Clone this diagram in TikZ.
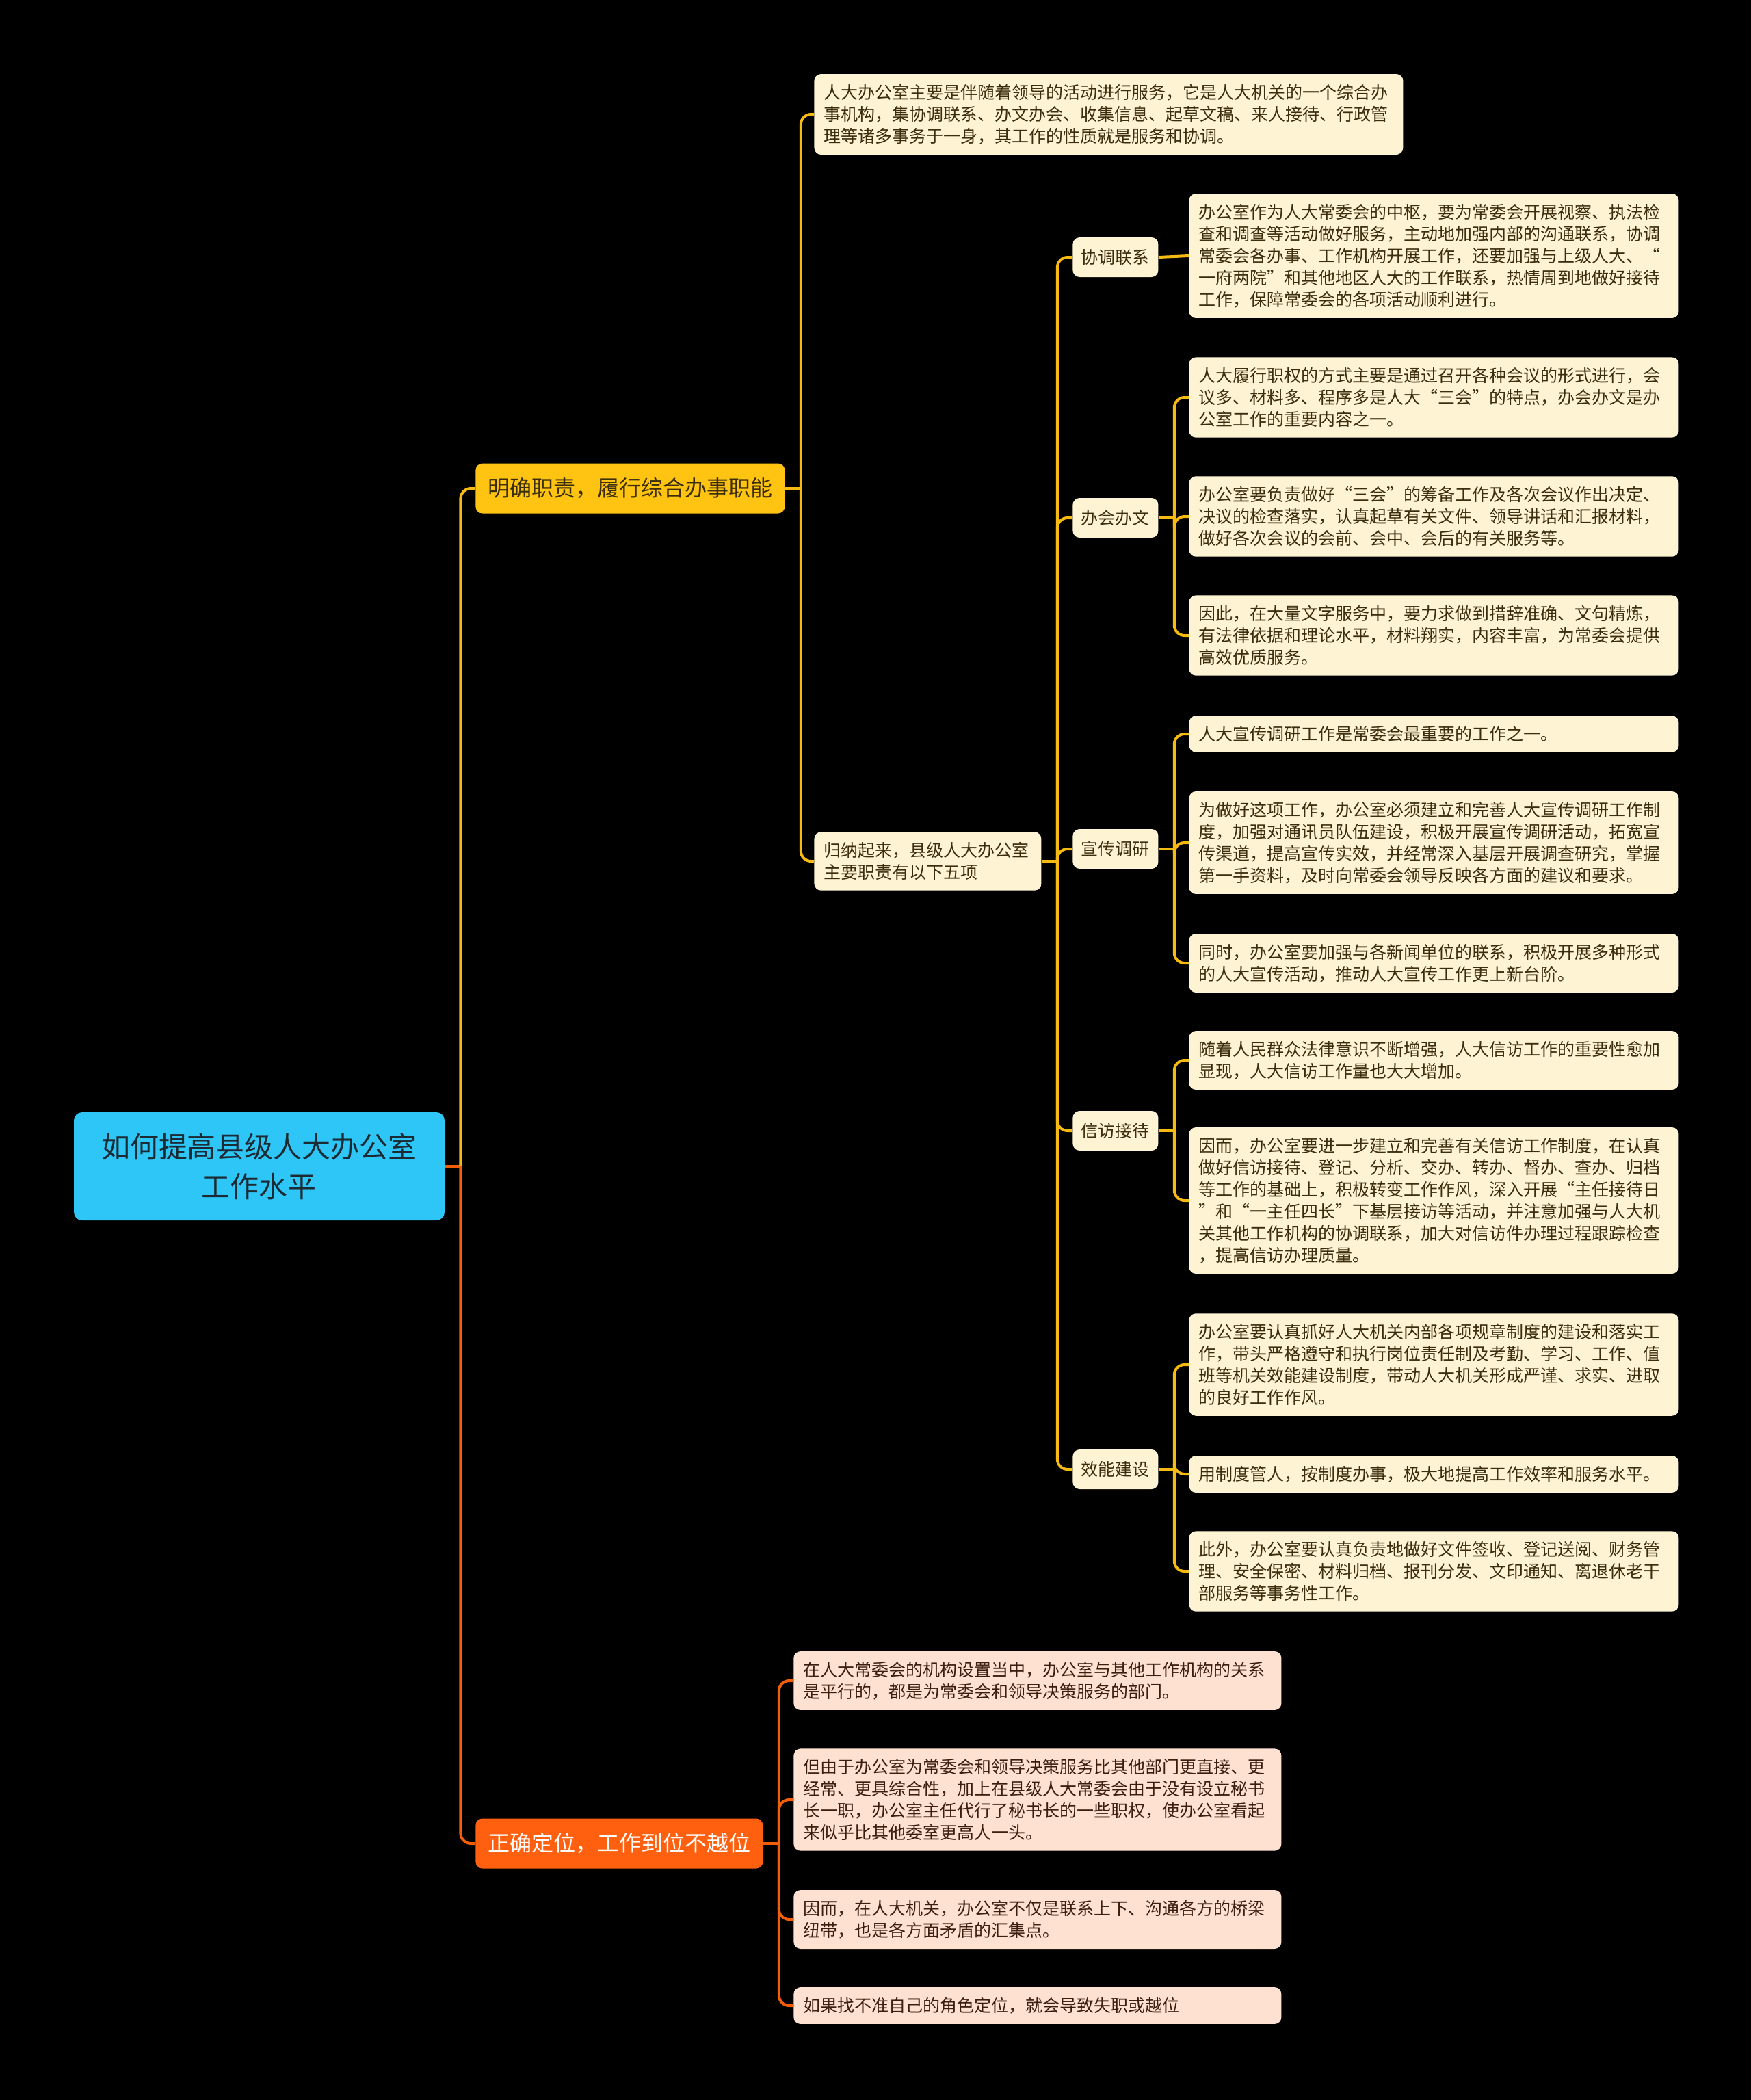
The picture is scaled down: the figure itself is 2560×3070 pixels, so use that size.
\documentclass[tikz,border=0pt]{standalone}
\usepackage{fontspec}
\setmainfont{Noto Sans CJK SC}
\usetikzlibrary{positioning}

\definecolor{rootblue}{HTML}{2EC6F7}
\definecolor{rootink}{HTML}{1C2B33}
\definecolor{amber}{HTML}{FFC312}
\definecolor{tangerine}{HTML}{FF600F}
\definecolor{cream}{HTML}{FEF3D2}
\definecolor{peach}{HTML}{FFE1D1}
\definecolor{inkbrown}{HTML}{3B2E0C}
\definecolor{inkred}{HTML}{3A1E10}
\definecolor{ylinecol}{HTML}{F6BA12}
\definecolor{olinecol}{HTML}{F35E0B}

\tikzset{
  rootbox/.style={fill=rootblue, text=rootink, rounded corners=6pt, align=center,
    minimum width=271pt, minimum height=79pt, font=\fontsize{21}{29}\selectfont},
  topicbox/.style={anchor=west, rounded corners=5pt, inner xsep=9pt,
    minimum height=36.5pt, font=\fontsize{16}{20}\selectfont},
  tagbox/.style={anchor=west, fill=cream, text=inkbrown, rounded corners=5pt,
    inner xsep=6.25pt, minimum height=29pt, font=\fontsize{12.5}{16}\selectfont},
  leafbox/.style={anchor=west, fill=cream, text=inkbrown, rounded corners=5pt,
    align=left, inner xsep=7pt, inner ysep=7.5pt, text width=344pt,
    font=\fontsize{12.5}{16}\selectfont},
  peachbox/.style={leafbox, fill=peach, text=inkred, text width=342.5pt},
  yconn/.style={draw=ylinecol, line width=2pt, rounded corners=7.5pt},
  oconn/.style={draw=olinecol, line width=2pt, rounded corners=7.5pt}
}

\begin{document}
\begin{tikzpicture}[x=0.5pt, y=-0.5pt]
\fill[black] (0,0) rectangle (2560,3070);

% root and main topics
\node[rootbox] (root) at (379,1705) {如何提高县级人大办公室\\工作水平};
\node[topicbox, fill=amber, text=inkbrown] (duty) at (695,714) {明确职责，履行综合办事职能};
\node[topicbox, fill=tangerine, text=white!94!peach] (role) at (695,2695) {正确定位，工作到位不越位};

\draw[oconn] (root.east) -- ++(23,0) coordinate (rootfork);
\draw[yconn] (rootfork) |- (duty.west);
\draw[oconn] (rootfork) |- (role.west);

% first topic
\node[leafbox, text width=416.5pt] (intro) at (1190,167) {人大办公室主要是伴随着领导的活动进行服务，它是人大机关的一个综合办\\事机构，集协调联系、办文办会、收集信息、起草文稿、来人接待、行政管\\理等诸多事务于一身，其工作的性质就是服务和协调。};
\node[leafbox, text width=152pt] (five) at (1190,1259) {归纳起来，县级人大办公室\\主要职责有以下五项};

\draw[yconn] (duty.east) -- ++(23,0) coordinate (dutyfork);
\foreach \c in {intro,five} \draw[yconn] (dutyfork) |- (\c.west);

% five duties
\node[tagbox] (coord) at (1568,376) {协调联系};
\node[tagbox] (meet) at (1568,757) {办会办文};
\node[tagbox] (publ) at (1568,1241) {宣传调研};
\node[tagbox] (visit) at (1568,1653) {信访接待};
\node[tagbox] (effic) at (1568,2148) {效能建设};

\draw[yconn] (five.east) -- ++(23,0) coordinate (fivefork);
\foreach \c in {coord,meet,publ,visit,effic} \draw[yconn] (fivefork) |- (\c.west);

% 协调联系
\node[leafbox] (coord1) at (1738,374) {办公室作为人大常委会的中枢，要为常委会开展视察、执法检\\查和调查等活动做好服务，主动地加强内部的沟通联系，协调\\常委会各办事、工作机构开展工作，还要加强与上级人大、“\\一府两院”和其他地区人大的工作联系，热情周到地做好接待\\工作，保障常委会的各项活动顺利进行。};

% 办会办文
\node[leafbox] (meet1) at (1738,581) {人大履行职权的方式主要是通过召开各种会议的形式进行，会\\议多、材料多、程序多是人大“三会”的特点，办会办文是办\\公室工作的重要内容之一。};
\node[leafbox] (meet2) at (1738,755) {办公室要负责做好“三会”的筹备工作及各次会议作出决定、\\决议的检查落实，认真起草有关文件、领导讲话和汇报材料，\\做好各次会议的会前、会中、会后的有关服务等。};
\node[leafbox] (meet3) at (1738,929) {因此，在大量文字服务中，要力求做到措辞准确、文句精炼，\\有法律依据和理论水平，材料翔实，内容丰富，为常委会提供\\高效优质服务。};

% 宣传调研
\node[leafbox] (publ1) at (1738,1073) {人大宣传调研工作是常委会最重要的工作之一。};
\node[leafbox] (publ2) at (1738,1232) {为做好这项工作，办公室必须建立和完善人大宣传调研工作制\\度，加强对通讯员队伍建设，积极开展宣传调研活动，拓宽宣\\传渠道，提高宣传实效，并经常深入基层开展调查研究，掌握\\第一手资料，及时向常委会领导反映各方面的建议和要求。};
\node[leafbox] (publ3) at (1738,1408) {同时，办公室要加强与各新闻单位的联系，积极开展多种形式\\的人大宣传活动，推动人大宣传工作更上新台阶。};

% 信访接待
\node[leafbox] (visit1) at (1738,1550) {随着人民群众法律意识不断增强，人大信访工作的重要性愈加\\显现，人大信访工作量也大大增加。};
\node[leafbox] (visit2) at (1738,1755) {因而，办公室要进一步建立和完善有关信访工作制度，在认真\\做好信访接待、登记、分析、交办、转办、督办、查办、归档\\等工作的基础上，积极转变工作作风，深入开展“主任接待日\\”和“一主任四长”下基层接访等活动，并注意加强与人大机\\关其他工作机构的协调联系，加大对信访件办理过程跟踪检查\\，提高信访办理质量。};

% 效能建设
\node[leafbox] (effic1) at (1738,1995) {办公室要认真抓好人大机关内部各项规章制度的建设和落实工\\作，带头严格遵守和执行岗位责任制及考勤、学习、工作、值\\班等机关效能建设制度，带动人大机关形成严谨、求实、进取\\的良好工作作风。};
\node[leafbox] (effic2) at (1738,2155) {用制度管人，按制度办事，极大地提高工作效率和服务水平。};
\node[leafbox] (effic3) at (1738,2297) {此外，办公室要认真负责地做好文件签收、登记送阅、财务管\\理、安全保密、材料归档、报刊分发、文印通知、离退休老干\\部服务等事务性工作。};

\draw[yconn] (coord.east) -- (coord1.west);
\draw[yconn] (meet.east) -- ++(23,0) coordinate (meetfork);
\foreach \c in {meet1,meet2,meet3} \draw[yconn] (meetfork) |- (\c.west);
\draw[yconn] (publ.east) -- ++(23,0) coordinate (publfork);
\foreach \c in {publ1,publ2,publ3} \draw[yconn] (publfork) |- (\c.west);
\draw[yconn] (visit.east) -- ++(23,0) coordinate (visitfork);
\foreach \c in {visit1,visit2} \draw[yconn] (visitfork) |- (\c.west);
\draw[yconn] (effic.east) -- ++(23,0) coordinate (efficfork);
\foreach \c in {effic1,effic2,effic3} \draw[yconn] (efficfork) |- (\c.west);

% second topic
\node[peachbox] (role1) at (1160,2457) {在人大常委会的机构设置当中，办公室与其他工作机构的关系\\是平行的，都是为常委会和领导决策服务的部门。};
\node[peachbox] (role2) at (1160,2631) {但由于办公室为常委会和领导决策服务比其他部门更直接、更\\经常、更具综合性，加上在县级人大常委会由于没有设立秘书\\长一职，办公室主任代行了秘书长的一些职权，使办公室看起\\来似乎比其他委室更高人一头。};
\node[peachbox] (role3) at (1160,2806) {因而，在人大机关，办公室不仅是联系上下、沟通各方的桥梁\\纽带，也是各方面矛盾的汇集点。};
\node[peachbox] (role4) at (1160,2932) {如果找不准自己的角色定位，就会导致失职或越位};

\draw[oconn] (role.east) -- ++(23,0) coordinate (rolefork);
\foreach \c in {role1,role2,role3,role4} \draw[oconn] (rolefork) |- (\c.west);
\end{tikzpicture}
\end{document}
